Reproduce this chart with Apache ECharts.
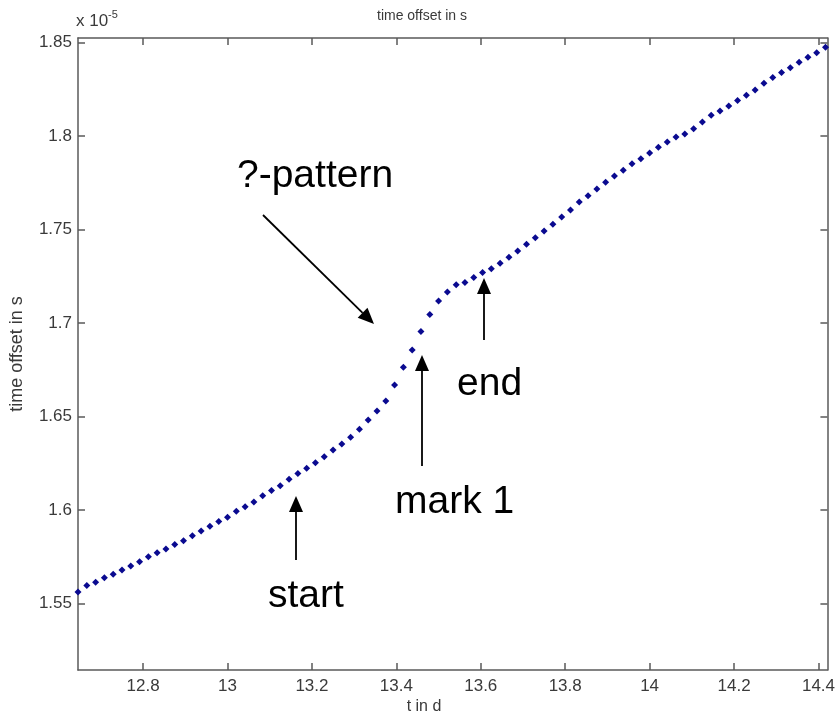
<!DOCTYPE html>
<html>
<head>
<meta charset="utf-8">
<title>time offset in s</title>
<script src="https://cdn.jsdelivr.net/npm/echarts@6/dist/echarts.min.js"></script>
<style>
  html, body { margin: 0; padding: 0; background: #fff; }
  #chart { width: 838px; height: 719px; }
</style>
</head>
<body>
<div id="chart"></div>
<script>
  // sample times in days (half-hour steps)
  const tValues = [
    12.6458, 12.6667, 12.6875, 12.7083, 12.7292, 12.7500, 12.7708, 12.7917, 12.8125, 12.8333,
    12.8542, 12.8750, 12.8958, 12.9167, 12.9375, 12.9583, 12.9792, 13.0000, 13.0208, 13.0417,
    13.0625, 13.0833, 13.1042, 13.1250, 13.1458, 13.1667, 13.1875, 13.2083, 13.2292, 13.2500,
    13.2708, 13.2917, 13.3125, 13.3333, 13.3542, 13.3750, 13.3958, 13.4167, 13.4375, 13.4583,
    13.4792, 13.5000, 13.5208, 13.5417, 13.5625, 13.5833, 13.6042, 13.6250, 13.6458, 13.6667,
    13.6875, 13.7083, 13.7292, 13.7500, 13.7708, 13.7917, 13.8125, 13.8333, 13.8542, 13.8750,
    13.8958, 13.9167, 13.9375, 13.9583, 13.9792, 14.0000, 14.0208, 14.0417, 14.0625, 14.0833,
    14.1042, 14.1250, 14.1458, 14.1667, 14.1875, 14.2083, 14.2292, 14.2500, 14.2708, 14.2917,
    14.3125, 14.3333, 14.3542, 14.3750, 14.3958, 14.4167
  ]
  // time offset, in units of 1e-5 s
  const offsetValues = [
    1.5560, 1.5595, 1.5612, 1.5636, 1.5656, 1.5678, 1.5700, 1.5722, 1.5749, 1.5771,
    1.5791, 1.5814, 1.5835, 1.5862, 1.5887, 1.5912, 1.5937, 1.5960, 1.5992, 1.6017,
    1.6042, 1.6075, 1.6103, 1.6129, 1.6164, 1.6195, 1.6223, 1.6252, 1.6284, 1.6320,
    1.6352, 1.6388, 1.6431, 1.6481, 1.6529, 1.6583, 1.6668, 1.6763, 1.6856, 1.6955,
    1.7046, 1.7118, 1.7166, 1.7205, 1.7216, 1.7243, 1.7270, 1.7290, 1.7319, 1.7352,
    1.7385, 1.7421, 1.7456, 1.7492, 1.7528, 1.7567, 1.7605, 1.7648, 1.7681, 1.7717,
    1.7753, 1.7787, 1.7817, 1.7852, 1.7879, 1.7909, 1.7941, 1.7969, 1.7995, 1.8011,
    1.8040, 1.8075, 1.8112, 1.8134, 1.8161, 1.8190, 1.8218, 1.8247, 1.8283, 1.8313,
    1.8340, 1.8366, 1.8395, 1.8422, 1.8446, 1.8475
  ]
  const xTicks = [12.8, 13, 13.2, 13.4, 13.6, 13.8, 14, 14.2, 14.4]
  const yTicks = [1.55, 1.6, 1.65, 1.7, 1.75, 1.8, 1.85]

  // annotations: label text + arrow (from -> tip), in pixels
  const notes = [
    {text: '?-pattern', x: 237, y: 196, from: [263, 215], to: [374, 324]},
    {text: 'start', x: 268, y: 616, from: [296, 560], to: [296, 496]},
    {text: 'mark 1', x: 395, y: 522, from: [422, 466], to: [422, 355]},
    {text: 'end', x: 457, y: 404, from: [484, 340], to: [484, 278]}
  ]

  const xMin = 12.6458, xMax = 14.4212
  const yMin = 1.5143, yMax = 1.8525
  const axisColor = '#5a5a5a'
  const textColor = '#3a3a3a'
  const font = 'Liberation Sans, Arial, sans-serif'

  function axisBase (ticks) {
    return {
      type: 'value',
      axisLine: {show: true, onZero: false, lineStyle: {color: axisColor, width: 1.5}},
      axisTick: {show: true, inside: true, length: 7, customValues: ticks, lineStyle: {color: axisColor, width: 1.5}},
      axisLabel: {customValues: ticks, color: textColor, fontSize: 17, fontFamily: font},
      splitLine: {show: false}
    }
  }

  function arrow (from, to) {
    const dx = to[0] - from[0], dy = to[1] - from[1]
    const len = Math.sqrt(dx * dx + dy * dy)
    const ux = dx / len, uy = dy / len
    const headLen = 16, headHalf = 7
    const bx = to[0] - ux * headLen, by = to[1] - uy * headLen
    return [
      {
        type: 'line',
        shape: {x1: from[0], y1: from[1], x2: bx, y2: by},
        style: {stroke: '#000', lineWidth: 1.8}
      },
      {
        type: 'polygon',
        shape: {points: [to, [bx - uy * headHalf, by + ux * headHalf], [bx + uy * headHalf, by - ux * headHalf]]},
        style: {fill: '#000'}
      }
    ]
  }

  const graphics = [
    {type: 'text', x: 422, y: 16, style: {text: 'time offset in s', align: 'center', verticalAlign: 'middle', fill: textColor, font: '14px ' + font}},
    {type: 'text', x: 76, y: 30, style: {text: 'x 10', verticalAlign: 'bottom', fill: textColor, font: '17px ' + font}},
    {type: 'text', x: 108, y: 20, style: {text: '-5', verticalAlign: 'bottom', fill: textColor, font: '11px ' + font}},
    {type: 'text', x: 424, y: 707, style: {text: 't in d', align: 'center', verticalAlign: 'middle', fill: textColor, font: '16px ' + font}}
  ]
  notes.forEach(n => {
    graphics.push({type: 'text', x: n.x, y: n.y, style: {text: n.text, verticalAlign: 'bottom', fill: '#000', font: '39px ' + font}})
    arrow(n.from, n.to).forEach(g => graphics.push(g))
  })

  const points = tValues.map((t, i) => [t, offsetValues[i]])

  const chart = echarts.init(document.getElementById('chart'))
  chart.setOption({
    backgroundColor: '#fff',
    animation: false,
    grid: {left: 77, right: 9, top: 38, bottom: 49, containLabel: false},
    xAxis: [
      Object.assign(axisBase(xTicks), {
        min: xMin, max: xMax, position: 'bottom',
        axisLabel: {customValues: xTicks, color: textColor, fontSize: 17, fontFamily: font, margin: 8}
      }),
      Object.assign(axisBase(xTicks), {
        min: xMin, max: xMax, position: 'top',
        axisLabel: {show: false}
      })
    ],
    yAxis: [
      Object.assign(axisBase(yTicks), {
        min: yMin, max: yMax, position: 'left',
        name: 'time offset in s', nameLocation: 'middle', nameGap: 52,
        nameTextStyle: {color: textColor, fontSize: 18, fontFamily: font},
        axisLabel: {customValues: yTicks, color: textColor, fontSize: 17, fontFamily: font, margin: 6}
      }),
      Object.assign(axisBase(yTicks), {
        min: yMin, max: yMax, position: 'right',
        axisLabel: {show: false}
      })
    ],
    series: [{
      type: 'scatter',
      xAxisIndex: 0,
      yAxisIndex: 0,
      data: points,
      symbol: 'diamond',
      symbolSize: 7,
      itemStyle: {color: '#0a0a90', opacity: 1}
    }],
    graphic: graphics
  })
</script>
</body>
</html>
